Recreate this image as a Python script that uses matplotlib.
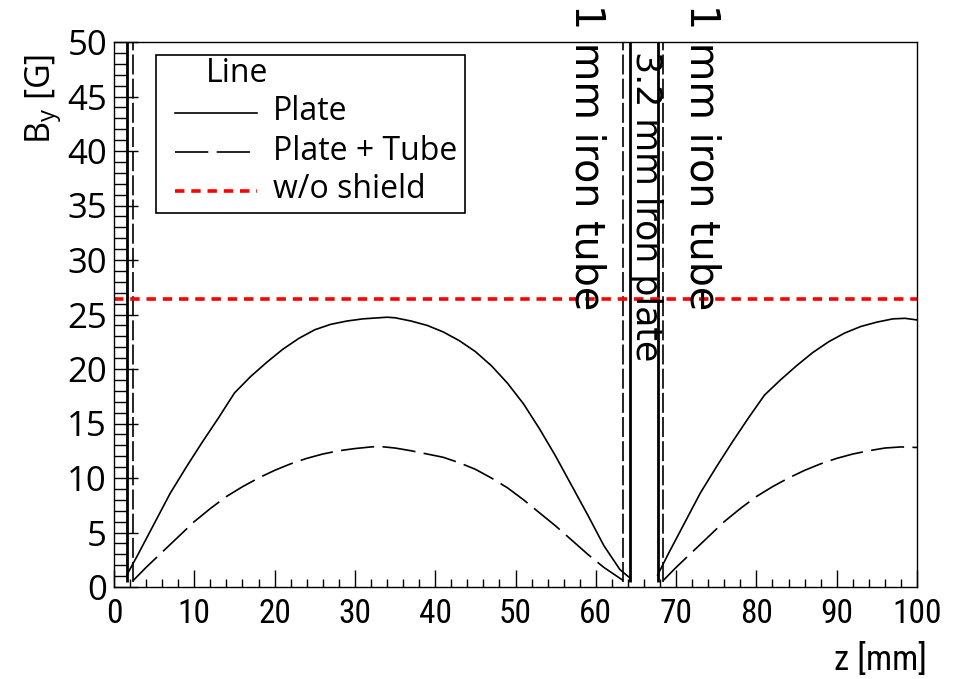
import matplotlib
matplotlib.use("Agg")
import matplotlib.pyplot as plt
from matplotlib import font_manager
from matplotlib.lines import Line2D
from matplotlib.patches import Rectangle
from matplotlib.ticker import MultipleLocator

# --- data ------------------------------------------------------------------
# "Plate" (solid), left lobe between the shields and right lobe after them
plate_z_left = [1.6, 3, 5, 7, 9, 11, 13, 15, 17, 19, 21, 23, 25, 27, 29, 31,
                33, 34, 35, 37, 39, 41, 43, 45, 47, 49, 51, 53, 55, 57, 59, 61, 63, 64.3]
plate_by_left = [1.1, 3.0, 5.8, 8.6, 11.0, 13.3, 15.5, 17.8, 19.3, 20.6, 21.8,
                 22.8, 23.6, 24.1, 24.4, 24.6, 24.7, 24.75, 24.7, 24.4, 24.0,
                 23.4, 22.6, 21.6, 20.3, 18.7, 16.8, 14.5, 12.0, 9.3, 6.6, 3.8, 1.6, 0.8]
plate_z_right = [67.7, 69, 71, 73, 75, 77, 79, 81, 83, 85, 87, 89, 91, 93, 95,
                 97, 98.5, 100]
plate_by_right = [1.1, 3.0, 5.8, 8.6, 11.0, 13.3, 15.5, 17.6, 19.0, 20.3, 21.5,
                  22.5, 23.3, 23.9, 24.3, 24.6, 24.65, 24.5]

# "Plate + Tube" (dashed)
tube_z_left = [2.4, 4, 6, 8, 10, 12, 14, 16, 18, 20, 22, 24, 26, 28, 30, 32,
               33, 35, 37, 39, 41, 43, 45, 47, 49, 51, 53, 55, 57, 59, 61, 63.4]
tube_by_left = [0.6, 1.8, 3.2, 4.6, 6.0, 7.2, 8.3, 9.2, 10.0, 10.7, 11.3, 11.8,
                12.2, 12.5, 12.7, 12.85, 12.9, 12.75, 12.5, 12.2, 11.9, 11.4,
                10.8, 10.0, 9.1, 8.0, 6.8, 5.6, 4.3, 3.0, 1.8, 0.6]
tube_z_right = [68.4, 70, 72, 74, 76, 78, 80, 82, 84, 86, 88, 90, 92, 94, 96,
                98, 100]
tube_by_right = [0.6, 1.8, 3.2, 4.6, 6.0, 7.2, 8.3, 9.2, 10.0, 10.7, 11.3,
                 11.8, 12.2, 12.5, 12.75, 12.85, 12.8]

# field without any shielding
no_shield_by = 26.4

# shield walls: the field inside the iron runs off the top of the plot
plate_walls = [1.6, 64.3, 67.7]
tube_walls = [2.4, 63.4, 68.4]

x_range = (0, 100)
y_range = (0, 50)

# --- fonts -------------------------------------------------------------------
installed = {f.name for f in font_manager.fontManager.ttflist}
main_font = ["Open Sans", "DejaVu Sans"]
narrow_font = main_font
for cand in ("Liberation Sans Narrow", "Roboto Condensed", "Open Sans Condensed"):
    if cand in installed:
        narrow_font = [cand, "DejaVu Sans"]
        break

W, H = 959, 679
fig = plt.figure(figsize=(W / 100, H / 100), dpi=100)
ax = fig.add_axes([114 / W, 1 - 587 / H, (917 - 114) / W, (587 - 42) / H])

lw = 1.2
dash_curve = (0, (20, 5))
dash_wall = (0, (12, 2.5))
dot_red = (0, (2.6, 1.9))

ax.plot(plate_z_left, plate_by_left, color="black", lw=lw)
ax.plot(plate_z_right, plate_by_right, color="black", lw=lw)
ax.plot(tube_z_left, tube_by_left, color="black", lw=lw, linestyle=dash_curve)
ax.plot(tube_z_right, tube_by_right, color="black", lw=lw, linestyle=dash_curve)

ax.vlines(plate_walls, 0.5, y_range[1], color="black", lw=2.0)
ax.vlines(tube_walls, 0.5, y_range[1], color="black", lw=lw, linestyles=[dash_wall])

ax.axhline(no_shield_by, color="red", lw=2.6, linestyle=dot_red)

ax.set_xlim(*x_range)
ax.set_ylim(*y_range)

ax.xaxis.set_major_locator(MultipleLocator(10))
ax.xaxis.set_minor_locator(MultipleLocator(2))
ax.yaxis.set_major_locator(MultipleLocator(5))
ax.yaxis.set_minor_locator(MultipleLocator(1))
ax.tick_params(axis="x", which="major", direction="in", length=12, width=1.0,
               top=False, pad=8)
ax.tick_params(axis="x", which="minor", direction="in", length=6, width=1.0, top=False)
ax.tick_params(axis="y", which="major", direction="in", length=17, width=1.0,
               right=False, pad=5)
ax.tick_params(axis="y", which="minor", direction="in", length=9, width=1.0, right=False)
for s in ax.spines.values():
    s.set_linewidth(1.0)

for lab in ax.get_xticklabels():
    lab.set_family(narrow_font)
    lab.set_fontsize(24)
for lab in ax.get_yticklabels():
    lab.set_family(main_font)
    lab.set_fontsize(25)

# axis titles, ROOT style at the far ends of the axes
fig.text(927 / W, 1 - 660 / H, "z [mm]", ha="right", va="center",
         fontsize=25, family=narrow_font)
fig.text(44 / W, 1 - 54 / H, r"B$_\mathregular{y}$ [G]", ha="center", va="top",
         rotation=90, fontsize=24.5, family=main_font)

# annotations for the shields
ax.text(58.8, 53.5, "1 mm iron tube", rotation=270, ha="center", va="top",
        fontsize=28.5, family="DejaVu Sans", clip_on=False)
ax.text(73.2, 53.5, "1 mm iron tube", rotation=270, ha="center", va="top",
        fontsize=28.5, family="DejaVu Sans", clip_on=False)
ax.text(66.3, 49.2, "3.2 mm iron plate", rotation=270, ha="center", va="top",
        fontsize=25, family="DejaVu Sans")

# legend box drawn by hand to get the ROOT layout
def fx(px):
    return px / W


def fy(py):
    return 1 - py / H


fig.add_artist(Rectangle((fx(156), fy(213)), fx(465) - fx(156), fy(55) - fy(213),
                         transform=fig.transFigure, facecolor="white",
                         edgecolor="black", lw=1.2, zorder=5))
fig.text(fx(206), fy(74), "Line", ha="left", va="center", fontsize=23,
         family=main_font, zorder=6)
entries = [("Plate", dict(color="black", lw=lw, linestyle="-"), 113),
           ("Plate + Tube", dict(color="black", lw=lw, linestyle=dash_curve), 152),
           ("w/o shield", dict(color="red", lw=2.6, linestyle=dot_red), 191)]
for label, style, py in entries:
    fig.add_artist(Line2D([fx(175), fx(257)], [fy(py), fy(py)],
                          transform=fig.transFigure, zorder=6, **style))
    fig.text(fx(273), fy(py - 1), label, ha="left", va="center", fontsize=23,
             family=main_font, zorder=6)

fig.savefig("out.png", dpi=100)
